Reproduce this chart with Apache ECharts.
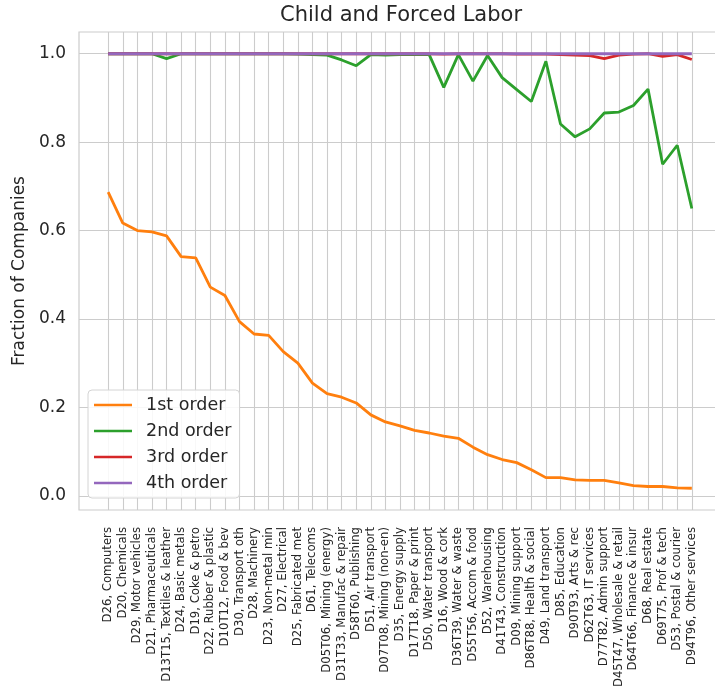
<!DOCTYPE html>
<html>
<head>
<meta charset="utf-8">
<script src="https://cdn.jsdelivr.net/npm/echarts@6/dist/echarts.min.js"></script>
<style>
html,body{margin:0;padding:0;background:#fff;}
#chart{width:715px;height:696px;}
</style>
</head>
<body>
<div id="chart"></div>
<script>
const categories = [
  "D26, Computers","D20, Chemicals","D29, Motor vehicles","D21, Pharmaceuticals",
  "D13T15, Textiles & leather","D24, Basic metals","D19, Coke & petro","D22, Rubber & plastic",
  "D10T12, Food & bev","D30, Transport oth","D28, Machinery","D23, Non-metal min",
  "D27, Electrical","D25, Fabricated met","D61, Telecoms","D05T06, Mining (energy)",
  "D31T33, Manufac & repair","D58T60, Publishing","D51, Air transport","D07T08, Mining (non-en)",
  "D35, Energy supply","D17T18, Paper & print","D50, Water transport","D16, Wood & cork",
  "D36T39, Water & waste","D55T56, Accom & food","D52, Warehousing","D41T43, Construction",
  "D09, Mining support","D86T88, Health & social","D49, Land transport","D85, Education",
  "D90T93, Arts & rec","D62T63, IT services","D77T82, Admin support","D45T47, Wholesale & retail",
  "D64T66, Finance & insur","D68, Real estate","D69T75, Prof & tech","D53, Postal & courier",
  "D94T96, Other services"
];
const firstOrder = [0.687,0.617,0.600,0.597,0.588,0.541,0.538,0.472,0.453,0.394,0.366,0.363,0.326,0.300,0.255,0.231,0.223,0.210,0.183,0.167,0.158,0.148,0.142,0.135,0.130,0.110,0.093,0.082,0.075,0.059,0.041,0.041,0.036,0.035,0.035,0.029,0.023,0.021,0.021,0.018,0.017];
const secondOrder = [1.0,1.0,1.0,1.0,0.989,1.0,1.0,1.0,1.0,1.0,1.0,1.0,1.0,0.999,0.998,0.997,0.986,0.973,0.998,0.997,0.998,0.998,0.998,0.924,0.998,0.938,0.996,0.946,0.919,0.892,0.983,0.841,0.812,0.830,0.866,0.868,0.883,0.920,0.750,0.793,0.650];
const thirdOrder = [1.0,1.0,1.0,1.0,1.0,1.0,1.0,1.0,1.0,1.0,1.0,1.0,1.0,1.0,1.0,1.0,1.0,1.0,1.0,1.0,1.0,1.0,1.0,0.999,1.0,1.0,1.0,1.0,0.999,0.999,0.999,0.998,0.997,0.996,0.989,0.997,0.999,1.0,0.994,0.998,0.987];
const fourthOrder = [1.0,1.0,1.0,1.0,1.0,1.0,1.0,1.0,1.0,1.0,1.0,1.0,1.0,1.0,1.0,1.0,1.0,1.0,1.0,1.0,1.0,1.0,1.0,1.0,1.0,1.0,1.0,1.0,1.0,1.0,1.0,1.0,1.0,1.0,1.0,1.0,1.0,1.0,1.0,1.0,1.0];
const seriesNames = ["1st order","2nd order","3rd order","4th order"];
const yTicks = [0.0,0.2,0.4,0.6,0.8,1.0];

// axis padding (matplotlib-style margins): two empty slots on each side
const PAD = 2;
const padArr = (a) => Array(PAD).fill(null).concat(a, Array(PAD).fill(null));
const xData = padArr(categories).map(v => v === null ? '' : v);
const isReal = (i) => i >= PAD && i < PAD + categories.length;

const FONT = "DejaVu Sans";
const TXT = "#262626";
const GRID = "#cccccc";
const colors = ["#ff7f0e","#2ca02c","#d62728","#9467bd"];
const allSeries = [firstOrder, secondOrder, thirdOrder, fourthOrder];

const chart = echarts.init(document.getElementById('chart'), null, {renderer:'canvas'});
chart.setOption({
  animation: false,
  backgroundColor: '#ffffff',
  title: {
    text: 'Child and Forced Labor',
    left: 396, textAlign: 'center', top: 0,
    textStyle: {fontFamily: FONT, fontSize: 21, fontWeight: 'normal', color: TXT}
  },
  grid: {
    left: 79, right: -6, top: 32, bottom: 186,
    containLabel: false, outerBoundsMode: 'none',
    show: true, borderColor: GRID, borderWidth: 1.2, backgroundColor: 'transparent'
  },
  legend: {
    orient: 'vertical', left: 88, top: 390,
    data: seriesNames,
    icon: 'rect', itemWidth: 38, itemHeight: 2.6, itemGap: 8,
    padding: [6, 8, 6, 6],
    backgroundColor: 'rgba(255,255,255,0.85)',
    borderColor: '#d4d4d4', borderWidth: 1, borderRadius: 4,
    textStyle: {fontFamily: FONT, fontSize: 17.5, color: TXT, lineHeight: 18, padding: [0,0,0,9]}
  },
  xAxis: {
    type: 'category', data: xData, boundaryGap: false,
    axisLine: {show: false}, axisTick: {show: false},
    axisLabel: {
      rotate: 90, interval: (i) => isReal(i), margin: 17,
      fontFamily: FONT, fontSize: 11.7, color: TXT
    },
    splitLine: {show: true, interval: (i) => isReal(i), lineStyle: {color: GRID, width: 1.1}}
  },
  yAxis: {
    type: 'value', min: -0.0322, max: 1.0492, splitNumber: 5,
    name: 'Fraction of Companies', nameLocation: 'middle', nameGap: 46,
    nameTextStyle: {fontFamily: FONT, fontSize: 17, color: TXT},
    axisLine: {show: false}, axisTick: {show: false},
    axisLabel: {
      margin: 13, fontFamily: FONT, fontSize: 17, color: TXT,
      showMinLabel: false, showMaxLabel: false,
      formatter: (v) => {
        const t = yTicks.find(k => Math.abs(k - v) < 1e-6);
        return t === undefined ? '' : t.toFixed(1);
      }
    },
    splitLine: {show: true, showMinLine: false, showMaxLine: false, lineStyle: {color: GRID, width: 1.1}}
  },
  series: allSeries.map((arr, k) => ({
    name: seriesNames[k], type: 'line', data: padArr(arr),
    symbol: 'none', showSymbol: false, connectNulls: false,
    lineStyle: {color: colors[k], width: 2.8},
    itemStyle: {color: colors[k]},
    z: 2 + k
  }))
});
</script>
</body>
</html>
